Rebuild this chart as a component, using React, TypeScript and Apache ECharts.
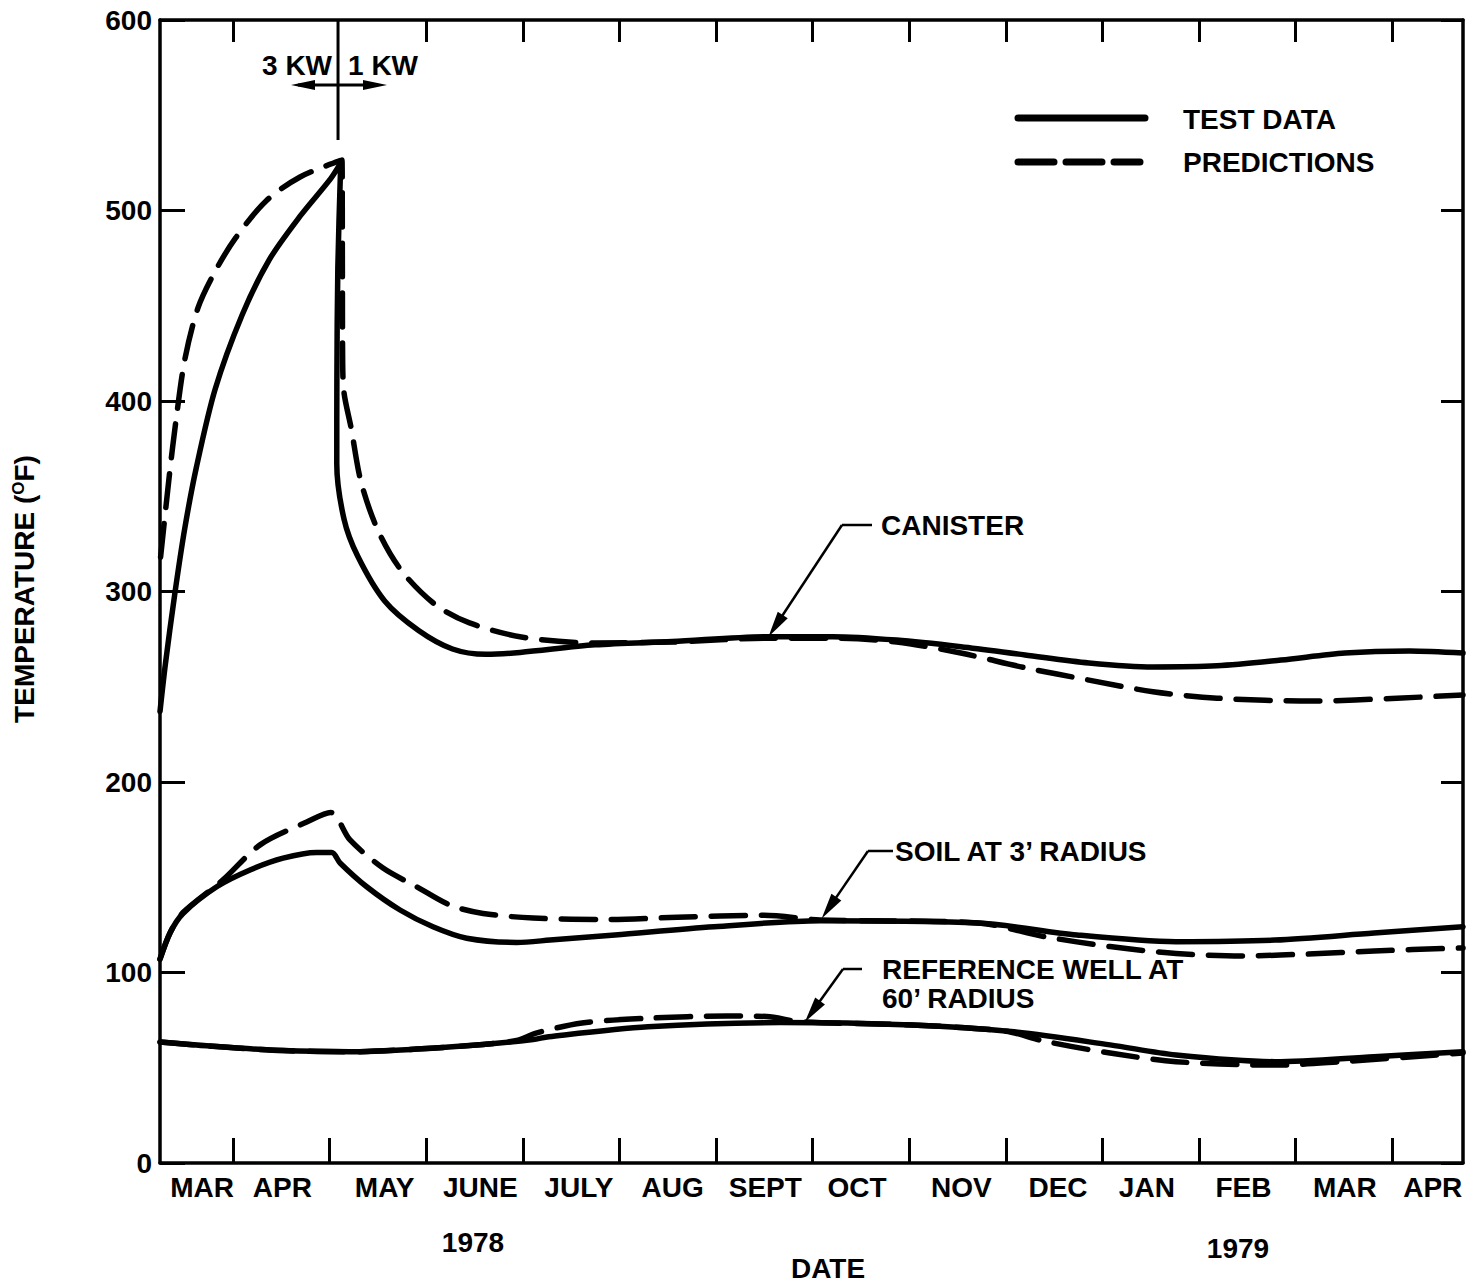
import React, { useEffect, useRef } from 'react';
import * as echarts from 'echarts';

// x values are months counted from 1 March 1978 (1 = 1 Apr 1978, 13 = 1 Apr 1979)
const X_MIN = 0.244;
const X_MAX = 13.733;
const MONTH_TICKS = [1, 2, 3, 4, 5, 6, 7, 8, 9, 10, 11, 12, 13];
const TOP_TICKS = [1, 3, 4, 5, 6, 7, 8, 9, 10, 11, 12, 13];
const MONTH_LABELS = ['MAR', 'APR', 'MAY', 'JUNE', 'JULY', 'AUG', 'SEPT', 'OCT', 'NOV', 'DEC', 'JAN', 'FEB', 'MAR', 'APR'];
const MONTH_LABEL_AT = [0.68, 1.51, 2.57, 3.56, 4.58, 5.55, 6.51, 7.46, 8.54, 9.54, 10.46, 11.46, 12.51, 13.42];
const POWER_CHANGE_AT = 2.087; // 3 KW -> 1 KW

// Temperatures in degrees F
const canisterTest: [number, number][] = [
  [0.244, 237], [0.3, 262], [0.395, 298], [0.5, 333], [0.62, 365], [0.814, 406], [1.093, 445], [1.373, 474],
  [1.694, 497], [2.009, 516.6], [2.115, 525], [2.085, 470], [2.075, 410], [2.074, 367], [2.149, 338],
  [2.29, 318.6], [2.57, 295], [2.921, 279.5], [3.272, 269.8], [3.619, 267], [3.971, 268], [4.747, 272],
  [5.545, 273.7], [6.543, 276.3], [7.207, 276.3], [7.87, 274.5], [8.534, 271], [9.199, 266.7],
  [9.861, 262.5], [10.524, 260.4], [11.186, 261], [11.849, 264], [12.511, 267.7], [13.179, 268.8],
  [13.733, 267.7],
];
const canisterPred: [number, number][] = [
  [0.25, 318], [0.343, 362], [0.41, 390], [0.5, 421.5], [0.638, 449], [0.814, 468], [1.027, 485.6],
  [1.342, 505], [1.694, 517.6], [2.128, 526.5], [2.132, 470], [2.135, 420], [2.15, 404], [2.222, 386],
  [2.325, 357.5], [2.501, 332], [2.746, 310.8], [3.097, 293], [3.448, 283.5], [4.0, 276], [4.747, 273],
  [5.545, 273.5], [6.543, 275.5], [7.207, 275.5], [7.87, 273.5], [8.534, 267.7], [9.199, 260],
  [9.861, 253.5], [10.524, 247.4], [11.186, 244], [12.18, 242.5], [13.05, 244], [13.733, 245.7],
];
const soilTest: [number, number][] = [
  [0.244, 107], [0.35, 121], [0.482, 131], [0.831, 145], [1.176, 153.8], [1.518, 160], [1.866, 163],
  [2.022, 163], [2.108, 157.5], [2.384, 145], [2.729, 132.8], [3.07, 124], [3.419, 118], [3.937, 115.8],
  [4.282, 117], [4.954, 119.7], [5.979, 124], [7.077, 127.2], [8.712, 126], [9.737, 119.7],
  [10.762, 116.2], [11.787, 117], [12.812, 120.7], [13.733, 124],
];
const soilPred: [number, number][] = [
  [0.244, 107], [0.35, 121], [0.482, 131.5], [0.896, 148.6], [1.28, 167], [1.763, 179], [2.01, 184],
  [2.211, 169.6], [2.553, 154.8], [2.902, 145], [3.246, 135.4], [3.588, 131], [4.106, 128.6], [4.9, 127.8],
  [5.6, 129], [6.497, 130], [7.077, 127.6], [8.712, 126], [9.395, 118.9], [10.079, 113.6], [10.762, 110],
  [11.445, 108.7], [12.128, 109.7], [12.812, 111.3], [13.733, 112.9],
];
const wellTest: [number, number][] = [
  [0.244, 63.5], [0.831, 61.1], [1.518, 59], [2.211, 58.4], [2.902, 59.8], [3.588, 62.2], [4.106, 64.8],
  [4.27, 66.3], [5.296, 71.5], [6.663, 73.7], [8.029, 72.4], [9.054, 69], [10.079, 62], [10.762, 56.7],
  [11.787, 53.2], [12.812, 55.8], [13.733, 58.4],
];
const wellPred: [number, number][] = [
  [0.244, 63.5], [0.831, 61.1], [1.518, 59], [2.211, 58.4], [2.902, 59.8], [3.588, 62.2], [3.95, 64.5],
  [4.137, 68.2], [4.613, 73.5], [5.296, 76], [6.114, 77.2], [6.526, 76.9], [6.87, 74.2], [8.029, 72.4],
  [9.0, 69.2], [9.395, 64], [10.079, 57.7], [10.762, 53.2], [11.787, 51.4], [12.47, 53.2], [13.733, 57.7],
];

// Callouts: text, the curve point the arrow touches, and where the leader bends
const CALLOUTS = [
  { lines: ['CANISTER'], tip: [6.543, 276.3], bend: [842, 525], elbow: 872, textX: 881, textY: 525 },
  { lines: ['SOIL AT 3\u2019 RADIUS'], tip: [7.094, 128.3], bend: [868, 851], elbow: 893, textX: 895, textY: 851 },
  { lines: ['REFERENCE WELL AT', '60\u2019 RADIUS'], tip: [6.92, 74], bend: [843, 969], elbow: 862, textX: 882, textY: 969 },
];

const FONT = '"Liberation Sans", Arial, Helvetica, sans-serif';
const BOLD28 = `bold 28px ${FONT}`;

function arrowHead(tip: number[], from: number[], len: number, half: number) {
  const dx = tip[0] - from[0];
  const dy = tip[1] - from[1];
  const d = Math.hypot(dx, dy) || 1;
  const ux = dx / d;
  const uy = dy / d;
  const bx = tip[0] - ux * len;
  const by = tip[1] - uy * len;
  return {
    type: 'polygon',
    shape: { points: [[tip[0], tip[1]], [bx - uy * half, by + ux * half], [bx + uy * half, by - ux * half]] },
    style: { fill: '#000' },
    silent: true,
  };
}

const solidLine = { color: '#000', width: 5.5, cap: 'round', join: 'round' };
const dashedLine = { color: '#000', width: 5.5, cap: 'round', join: 'round', type: [34, 16] };

function lineSeries(name: string, data: [number, number][], dashed: boolean) {
  return {
    name,
    type: 'line',
    data,
    symbol: 'none',
    smooth: 0.3,
    lineStyle: dashed ? dashedLine : solidLine,
    z: dashed ? 2 : 3,
  };
}

export default function App() {
  const ref = useRef<HTMLDivElement>(null);

  useEffect(() => {
    if (!ref.current) return;
    const chart = echarts.init(ref.current, undefined, { renderer: 'svg' });
    const axisLine = { show: true, onZero: false, lineStyle: { color: '#000', width: 3.5 } };

    chart.setOption({
      animation: false,
      backgroundColor: '#ffffff',
      grid: { left: 160, right: 17, top: 20, bottom: 121, containLabel: false },
      xAxis: [
        {
          type: 'value', min: X_MIN, max: X_MAX, position: 'bottom',
          axisLine,
          axisTick: { show: true, inside: true, length: 25, customValues: MONTH_TICKS, lineStyle: { color: '#000', width: 3 } },
          axisLabel: {
            show: true, customValues: MONTH_LABEL_AT, margin: 10, color: '#000',
            fontSize: 28, fontWeight: 'bold', fontFamily: FONT,
            formatter: (v: number) => {
              const i = MONTH_LABEL_AT.findIndex((p) => Math.abs(p - v) < 1e-6);
              return i >= 0 ? MONTH_LABELS[i] : '';
            },
          },
          splitLine: { show: false },
        },
        {
          type: 'value', min: X_MIN, max: X_MAX, position: 'top',
          axisLine,
          axisTick: { show: true, inside: true, length: 22, customValues: TOP_TICKS, lineStyle: { color: '#000', width: 3 } },
          axisLabel: { show: false },
          splitLine: { show: false },
        },
      ],
      yAxis: [
        {
          type: 'value', min: 0, max: 600, interval: 100, position: 'left',
          axisLine,
          axisTick: { show: true, inside: true, length: 25, lineStyle: { color: '#000', width: 3 } },
          axisLabel: { show: true, margin: 8, color: '#000', fontSize: 28, fontWeight: 'bold', fontFamily: FONT },
          splitLine: { show: false },
        },
        {
          type: 'value', min: 0, max: 600, interval: 100, position: 'right',
          axisLine,
          axisTick: { show: true, inside: true, length: 22, lineStyle: { color: '#000', width: 3 } },
          axisLabel: { show: false },
          splitLine: { show: false },
        },
      ],
      series: [
        lineSeries('PREDICTIONS', canisterPred, true),
        lineSeries('TEST DATA', canisterTest, false),
        lineSeries('PREDICTIONS', soilPred, true),
        lineSeries('TEST DATA', soilTest, false),
        lineSeries('PREDICTIONS', wellPred, true),
        lineSeries('TEST DATA', wellTest, false),
      ],
    });

    const toPx = (p: number[]) => chart.convertToPixel({ gridIndex: 0 }, p) as number[];
    const graphics: any[] = [];
    const text = (t: string, x: number, y: number, align = 'left', extra: any = {}) => ({
      type: 'text', x, y, silent: true,
      style: { text: t, font: BOLD28, fill: '#000', align, verticalAlign: 'middle', ...extra },
    });

    // Power change marker
    const topY = toPx([POWER_CHANGE_AT, 600])[1];
    const changeX = toPx([POWER_CHANGE_AT, 600])[0];
    graphics.push({ type: 'line', silent: true, shape: { x1: changeX, y1: topY, x2: changeX, y2: 140 }, style: { stroke: '#000', lineWidth: 3 } });
    graphics.push({ type: 'line', silent: true, shape: { x1: changeX - 40, y1: 85, x2: changeX + 40, y2: 85 }, style: { stroke: '#000', lineWidth: 3 } });
    graphics.push(arrowHead([changeX - 47, 85], [changeX, 85], 24, 5));
    graphics.push(arrowHead([changeX + 49, 85], [changeX, 85], 24, 5));
    graphics.push(text('3 KW', changeX - 41, 65, 'center'));
    graphics.push(text('1 KW', changeX + 45, 65, 'center'));

    // Curve callouts
    CALLOUTS.forEach((c) => {
      const tip = toPx(c.tip);
      graphics.push({ type: 'line', silent: true, shape: { x1: c.bend[0], y1: c.bend[1], x2: c.elbow, y2: c.bend[1] }, style: { stroke: '#000', lineWidth: 2.5 } });
      const head = arrowHead(tip, c.bend, 26, 6);
      const dx = tip[0] - c.bend[0];
      const dy = tip[1] - c.bend[1];
      const d = Math.hypot(dx, dy);
      graphics.push({ type: 'line', silent: true, shape: { x1: c.bend[0], y1: c.bend[1], x2: tip[0] - (dx / d) * 20, y2: tip[1] - (dy / d) * 20 }, style: { stroke: '#000', lineWidth: 2.5 } });
      graphics.push(head);
      c.lines.forEach((ln, i) => graphics.push(text(ln, c.textX, c.textY + i * 29)));
    });

    // Key
    graphics.push({ type: 'line', silent: true, shape: { x1: 1018, y1: 118, x2: 1145, y2: 118 }, style: { stroke: '#000', lineWidth: 7, lineCap: 'round' } });
    graphics.push({ type: 'line', silent: true, shape: { x1: 1018, y1: 162, x2: 1140, y2: 162 }, style: { stroke: '#000', lineWidth: 7, lineCap: 'round', lineDash: [36, 12] } });
    graphics.push(text('TEST DATA', 1183, 119));
    graphics.push(text('PREDICTIONS', 1183, 162));

    // Axis titles and years
    graphics.push(text('1978', 473, 1242, 'center'));
    graphics.push(text('1979', 1238, 1248, 'center'));
    graphics.push(text('DATE', 828, 1268, 'center'));
    graphics.push({
      type: 'text', x: 24, y: 589, rotation: Math.PI / 2, silent: true,
      style: {
        text: '{a|TEMPERATURE (}{s|O}{a|F)}',
        align: 'center', verticalAlign: 'middle', fill: '#000',
        rich: {
          a: { font: BOLD28, fill: '#000', verticalAlign: 'bottom' },
          s: { font: `bold 17px ${FONT}`, fill: '#000', verticalAlign: 'top' },
        },
      },
    });

    chart.setOption({ graphic: graphics });

    return () => chart.dispose();
  }, []);

  return (
    <div
      ref={ref}
      style={{ position: 'absolute', left: 0, top: 0, width: 1480, height: 1284, background: '#fff' }}
    />
  );
}
